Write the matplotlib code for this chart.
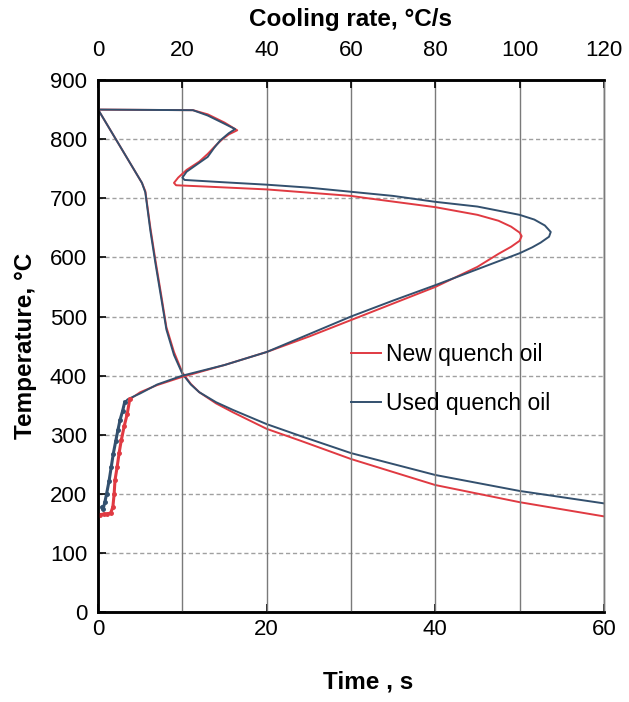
import matplotlib
matplotlib.use("Agg")
import matplotlib.pyplot as plt

plt.rcParams['font.family'] = ['Liberation Sans', 'DejaVu Sans']

# cooling curves: temperature vs time
time_s = [0, 5.2, 5.6, 6.2, 6.8, 7.5, 8.1, 9, 10, 11, 12, 14, 16, 20, 24, 30, 40, 50, 60]
temp_used = [850, 726, 710, 645, 590, 530, 478, 435, 403, 385, 372, 355, 342, 318, 298, 269, 232, 205, 184]
temp_new = [850, 726, 712, 650, 595, 535, 482, 440, 405, 386, 372, 353, 338, 310, 290, 259, 215, 186, 162]

# cooling rate curves: temperature vs cooling rate
rate_used = [0, 22.5, 26, 30, 32.5, 31, 29, 27.5, 26, 24, 21, 20, 20.5, 30, 40, 50, 60, 70, 80, 90,
             100, 103.5, 106, 107.4, 107, 105, 103, 100, 90, 80, 70, 60, 50, 40, 30, 20, 14, 10, 7, 6.3]
rtemp_used = [850, 849, 840, 826, 817, 810, 798, 785, 770, 760, 745, 735, 731, 727, 723, 718, 711, 704, 694, 686,
              672, 664, 654, 643, 635, 625, 617, 607, 580, 553, 527, 500, 470, 440, 418, 400, 385, 370, 360, 355]
rate_new = [0, 22.5, 26, 30, 33, 31, 29.5, 28, 26, 24, 21, 19, 18, 18.5, 25, 40, 60, 64, 80, 90,
            95, 98, 100, 100.5, 100, 98, 95, 90, 80, 70, 60, 50, 40, 30, 20, 14, 10, 7.5]
rtemp_new = [850, 849, 842, 828, 815, 808, 800, 790, 775, 762, 748, 735, 726, 722, 720, 715, 704, 700, 685, 672,
             662, 652, 642, 636, 628, 618, 606, 584, 550, 522, 494, 466, 440, 418, 398, 384, 372, 360]

# noisy low-temperature tail of the cooling rate curves
tail_rate_used = [6.3, 5.8, 5.2, 4.7, 4.2, 3.6, 3.1, 2.6, 2.0, 1.6, 1.2, 1.0]
tail_temp_used = [355, 340, 325, 308, 290, 268, 245, 222, 200, 186, 175, 178]
tail_rate_new = [7.5, 6.9, 6.2, 5.5, 5.0, 4.5, 4.0, 3.8, 3.5, 3.0, 2.2, 1.5, 0.5]
tail_temp_new = [360, 335, 315, 291, 270, 245, 223, 200, 178, 168, 166, 166, 165]

RED = '#e03a42'
BLUE = '#33506e'

fig = plt.figure(figsize=(6.29, 7.02), dpi=100)
ax = fig.add_axes([0.156, 0.128, 0.804, 0.758])
l1, = ax.plot(time_s, temp_new, color=RED, lw=1.4, label='New quench oil')
l2, = ax.plot(time_s, temp_used, color=BLUE, lw=1.4, label='Used quench oil')
ax.set_xlim(0, 60)
ax.set_ylim(0, 900)
ax.set_xticks([0, 20, 40, 60])
ax.set_yticks(range(0, 1000, 100))
ax.yaxis.grid(True, color='#a0a0a0', ls=(0, (3, 2)), lw=1)
ax.tick_params(direction='in', length=6, width=1.2, labelsize=16, colors='black', pad=5)
ax.tick_params(axis='y', pad=8)
ax.set_xlabel('Time , s', fontsize=17.5, fontweight='bold', labelpad=22)
ax.xaxis.label.set_x(0.534)
ax.set_ylabel('Temperature, °C', fontsize=17.5, fontweight='bold', labelpad=9)

ax2 = ax.twiny()
ax2.plot(rate_new, rtemp_new, color=RED, lw=1.4)
ax2.plot(rate_used, rtemp_used, color=BLUE, lw=1.4)
ax2.plot(tail_rate_new, tail_temp_new, color=RED, lw=2.2, marker='o', ms=2.5)
ax2.plot(tail_rate_used, tail_temp_used, color=BLUE, lw=2.2, marker='o', ms=2.5)
ax2.set_xlim(0, 120)
ax2.set_xticks(range(0, 140, 20))
ax2.xaxis.grid(True, color='#7a7a7a', lw=1)
ax2.set_axisbelow(True)
ax.set_axisbelow(True)
ax2.tick_params(direction='in', length=6, width=1.2, labelsize=16, pad=14)
ax2.set_xlabel('Cooling rate, °C/s', fontsize=17.5, fontweight='bold', labelpad=10)

for a in (ax, ax2):
    for s in ('left', 'bottom', 'top'):
        a.spines[s].set_linewidth(1.8)
        a.spines[s].set_color('black')
    a.spines['right'].set_color('#7a7a7a')
    a.spines['right'].set_linewidth(1)

leg = ax2.legend(handles=[l1, l2], loc='upper left', bbox_to_anchor=(0.46, 0.545), frameon=False,
                 fontsize=16.5, handlelength=1.3, handletextpad=0.2, labelspacing=1.15)
for line in leg.get_lines():
    line.set_linewidth(1.4)

fig.savefig('out.png', dpi=100)
